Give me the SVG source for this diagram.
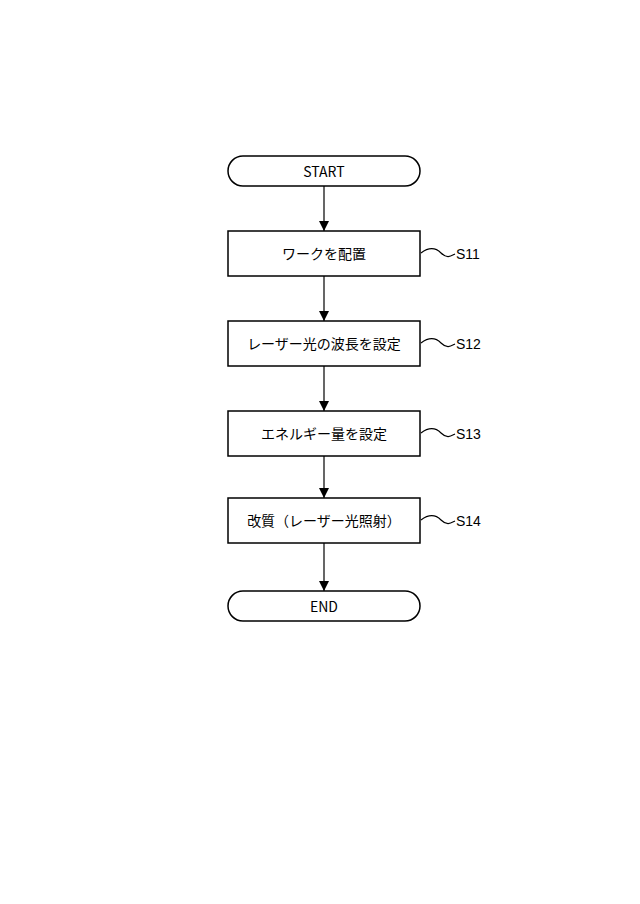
<svg xmlns="http://www.w3.org/2000/svg" width="640" height="904" viewBox="0 0 640 904">
<defs>
<style>
.b{fill:#fff;stroke:#000;stroke-width:1.5}
.t{font-family:"Noto Sans CJK JP","Liberation Sans",sans-serif;font-size:14px;text-anchor:middle;dominant-baseline:central}
.l{font-family:"Liberation Sans","Noto Sans CJK JP",sans-serif;font-size:14px;dominant-baseline:central}
.c{fill:none;stroke:#000;stroke-width:1.2}
</style>
<marker id="ar" viewBox="0 0 10 10" refX="10" refY="5" markerWidth="10" markerHeight="12" markerUnits="userSpaceOnUse" orient="auto"><path d="M0,0L10,5L0,10Z"/></marker>
</defs>
<g id="connectors">
<line class="c" x1="324" y1="186" x2="324" y2="231" marker-end="url(#ar)"/>
<line class="c" x1="324" y1="276" x2="324" y2="321" marker-end="url(#ar)"/>
<line class="c" x1="324" y1="366" x2="324" y2="411" marker-end="url(#ar)"/>
<line class="c" x1="324" y1="456" x2="324" y2="498" marker-end="url(#ar)"/>
<line class="c" x1="324" y1="543" x2="324" y2="591" marker-end="url(#ar)"/>
<path class="c" d="M421,253c8,-6 14,-6 20,0s10,3 14,1"/>
<path class="c" d="M421,343c8,-6 14,-6 20,0s10,3 14,1"/>
<path class="c" d="M421,433c8,-6 14,-6 20,0s10,3 14,1"/>
<path class="c" d="M421,520c8,-6 14,-6 20,0s10,3 14,1"/>
</g>
<g id="start"><rect class="b" x="228" y="156" width="192" height="30" rx="15"/><text class="t" x="324" y="171">START</text></g>
<g id="s11"><rect class="b" x="228" y="231" width="192" height="45"/><text class="t" x="324" y="253">ワークを配置</text><text class="l" x="456" y="254">S11</text></g>
<g id="s12"><rect class="b" x="228" y="321" width="192" height="45"/><text class="t" x="324" y="343">レーザー光の波長を設定</text><text class="l" x="456" y="344">S12</text></g>
<g id="s13"><rect class="b" x="228" y="411" width="192" height="45"/><text class="t" x="324" y="433">エネルギー量を設定</text><text class="l" x="456" y="434">S13</text></g>
<g id="s14"><rect class="b" x="228" y="498" width="192" height="45"/><text class="t" x="324" y="520">改質（レーザー光照射）</text><text class="l" x="456" y="521">S14</text></g>
<g id="end"><rect class="b" x="228" y="591" width="192" height="30" rx="15"/><text class="t" x="324" y="606">END</text></g>
</svg>
